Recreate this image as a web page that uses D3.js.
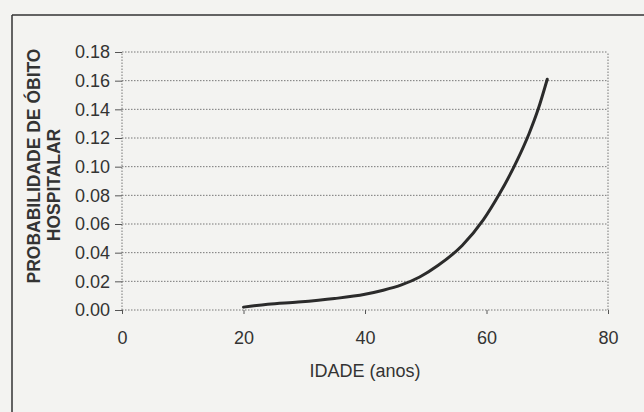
<!DOCTYPE html>
<html>
<head>
<meta charset="utf-8">
<script src="https://cdn.jsdelivr.net/npm/d3@7"></script>
<style>
  body { margin: 0; background: #f3f3f1; }
  svg { display: block; }
</style>
</head>
<body>
<div id="vis"></div>
<script>
// dados (idade, probabilidade)
const idades = [20, 24, 29, 35, 40, 43, 46, 49, 52, 56, 59.5, 62, 65, 67, 68.5, 70];
const probs = [0.002, 0.004, 0.0055, 0.008, 0.011, 0.0138, 0.0175, 0.023, 0.031, 0.045, 0.063, 0.08, 0.104, 0.123, 0.14, 0.161];
const xTicks = [0, 20, 40, 60, 80];
const yTicks = [0, 0.02, 0.04, 0.06, 0.08, 0.10, 0.12, 0.14, 0.16, 0.18];

const fonte = "'Liberation Sans Narrow', 'Liberation Sans', Arial, sans-serif";

const svg = d3.select("#vis").append("svg");
svg.attr("width", 644).attr("height", 412);

// moldura da figura
svg.append("line")
    .attr("x1", 12).attr("y1", 15).attr("x2", 644).attr("y2", 15)
    .attr("stroke", "#333").attr("stroke-width", 1.5);
svg.append("line")
    .attr("x1", 12).attr("y1", 15).attr("x2", 12).attr("y2", 412)
    .attr("stroke", "#333").attr("stroke-width", 1.5);

const x = d3.scaleLinear().domain([0, 80]).range([122, 608]);
const y = d3.scaleLinear().domain([0, 0.18]).range([310, 52]);

// grade
svg.selectAll("grade")
    .data(yTicks)
    .join("line")
    .attr("x1", x(0)).attr("x2", x(80))
    .attr("y1", d => y(d)).attr("y2", d => y(d))
    .attr("stroke", "#777")
    .attr("stroke-width", 1)
    .attr("stroke-dasharray", "1.5,1.5");

svg.selectAll("bordas")
    .data([0, 80])
    .join("line")
    .attr("x1", d => x(d)).attr("x2", d => x(d))
    .attr("y1", y(0)).attr("y2", y(0.18))
    .attr("stroke", "#777")
    .attr("stroke-width", 1)
    .attr("stroke-dasharray", "1.5,1.5");

// eixo y
const eixoY = svg.append("g")
    .attr("transform", `translate(${x(0)},0)`)
    .call(d3.axisLeft(y).tickValues(yTicks).tickSize(7).tickPadding(5).tickFormat(d3.format(".2f")));
eixoY.select(".domain").remove();
eixoY.selectAll("line").attr("stroke", "#555");
eixoY.selectAll("text")
    .attr("font-family", fonte)
    .attr("font-size", 18)
    .attr("fill", "#333");

// eixo x
const eixoX = svg.append("g")
    .attr("transform", `translate(0,${y(0)})`)
    .call(d3.axisBottom(x).tickValues(xTicks).tickSize(4).tickPadding(17));
eixoX.select(".domain").remove();
eixoX.selectAll("line").attr("stroke", "#555");
eixoX.selectAll("text")
    .attr("font-family", fonte)
    .attr("font-size", 18)
    .attr("fill", "#333");

// curva
const linha = d3.line()
    .x((d, i) => x(d))
    .y((d, i) => y(probs[i]))
    .curve(d3.curveMonotoneX);

svg.append("path")
    .attr("d", linha(idades))
    .attr("fill", "none")
    .attr("stroke", "#2b2b2b")
    .attr("stroke-width", 3)
    .attr("stroke-linecap", "round");

// títulos
svg.append("text")
    .attr("x", 365).attr("y", 377)
    .attr("text-anchor", "middle")
    .attr("font-family", fonte)
    .attr("font-size", 18)
    .attr("fill", "#333")
    .text("IDADE (anos)");

svg.append("text")
    .attr("transform", "translate(40,166) rotate(-90)")
    .attr("text-anchor", "middle")
    .attr("font-family", "'Liberation Sans', Arial, sans-serif")
    .attr("font-size", 17.5)
    .attr("font-weight", "bold")
    .attr("fill", "#333")
    .text("PROBABILIDADE DE ÓBITO");

svg.append("text")
    .attr("transform", "translate(60,185) rotate(-90)")
    .attr("text-anchor", "middle")
    .attr("font-family", "'Liberation Sans', Arial, sans-serif")
    .attr("font-size", 17.5)
    .attr("font-weight", "bold")
    .attr("fill", "#333")
    .text("HOSPITALAR");
</script>
</body>
</html>
